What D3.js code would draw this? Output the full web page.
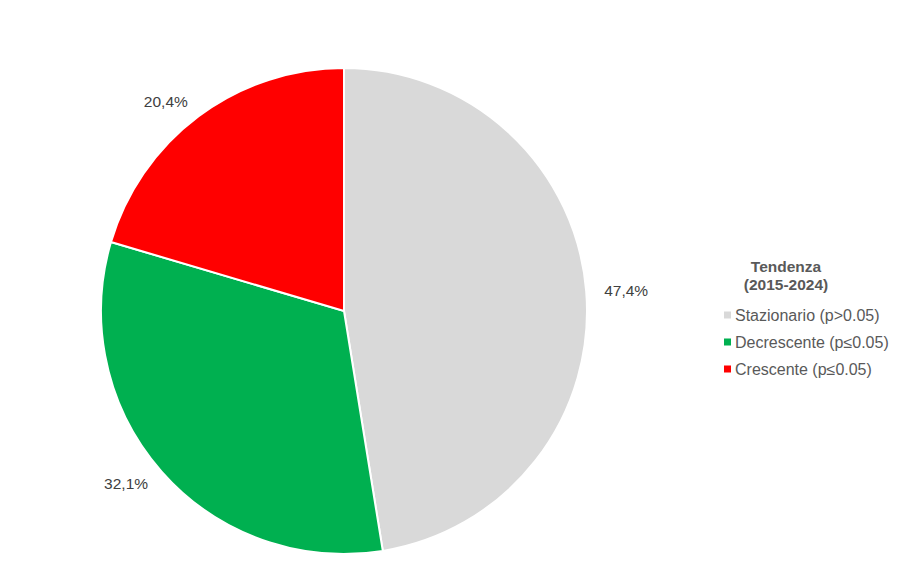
<!DOCTYPE html>
<html>
<head>
<meta charset="utf-8">
<script src="https://cdn.jsdelivr.net/npm/d3@7"></script>
<style>
  body { margin: 0; background: #fff; }
  text { font-family: "Liberation Sans", Arial, sans-serif; }
</style>
</head>
<body>
<svg id="chart"></svg>
<script>
// chart data
const categories = ['Stazionario (p>0.05)', 'Decrescente (p≤0.05)', 'Crescente (p≤0.05)'];
const values = [47.4, 32.1, 20.4];
const colors = ['#d9d9d9', '#00b050', '#ff0000'];
const legendTitle = ['Tendenza', '(2015-2024)'];

const width = 898;
const height = 579;
const cx = 344;
const cy = 311;
const radius = 243;
const labelGap = 18;

const svg = d3.select('#chart')
  .attr('width', width)
  .attr('height', height);

const pie = d3.pie()
  .sort(null)
  .value((d) => d.value);

const data = categories.map((c, i) => ({ name: c, value: values[i], color: colors[i] }));
const arcs = pie(data);

const arc = d3.arc()
  .innerRadius(0)
  .outerRadius(radius);

// labels sit just outside the pie, anchored on the side facing it
const labelArc = d3.arc()
  .innerRadius(radius + labelGap)
  .outerRadius(radius + labelGap);
const midAngle = (d) => (d.startAngle + d.endAngle) / 2;

const chart = svg.append('g')
  .attr('transform', `translate(${cx},${cy})`);

chart.selectAll('path')
  .data(arcs)
  .join('path')
  .attr('d', arc)
  .attr('fill', (d) => d.data.color)
  .attr('stroke', '#fff')
  .attr('stroke-width', 2);

const fmt = (v) => `${v.toFixed(1).replace('.', ',')}%`;

chart.selectAll('text.slice-label')
  .data(arcs)
  .join('text')
  .attr('class', 'slice-label')
  .attr('transform', (d) => `translate(${labelArc.centroid(d)})`)
  .attr('text-anchor', (d) => (midAngle(d) < Math.PI ? 'start' : 'end'))
  .attr('dy', '0.35em')
  .style('font-size', '15.5px')
  .style('fill', '#404040')
  .text((d) => fmt(d.data.value));

// legend
const legend = svg.append('g')
  .attr('transform', 'translate(724,0)');

legend.selectAll('text.legend-title')
  .data(legendTitle)
  .join('text')
  .attr('class', 'legend-title')
  .attr('x', 62)
  .attr('y', (_, i) => 272 + i * 18)
  .attr('text-anchor', 'middle')
  .style('font-size', '15.5px')
  .style('font-weight', 'bold')
  .style('fill', '#595959')
  .text((d) => d);

const items = legend.selectAll('g.legend-item')
  .data(data)
  .join('g')
  .attr('class', 'legend-item')
  .attr('transform', (_, i) => `translate(0,${315 + i * 27})`);

items.append('rect')
  .attr('x', 0)
  .attr('y', -3.5)
  .attr('width', 7)
  .attr('height', 7)
  .attr('fill', (d) => d.color);

items.append('text')
  .attr('x', 11)
  .attr('dy', '0.36em')
  .style('font-size', '16px')
  .style('fill', '#595959')
  .text((d) => d.name);
</script>
</body>
</html>
